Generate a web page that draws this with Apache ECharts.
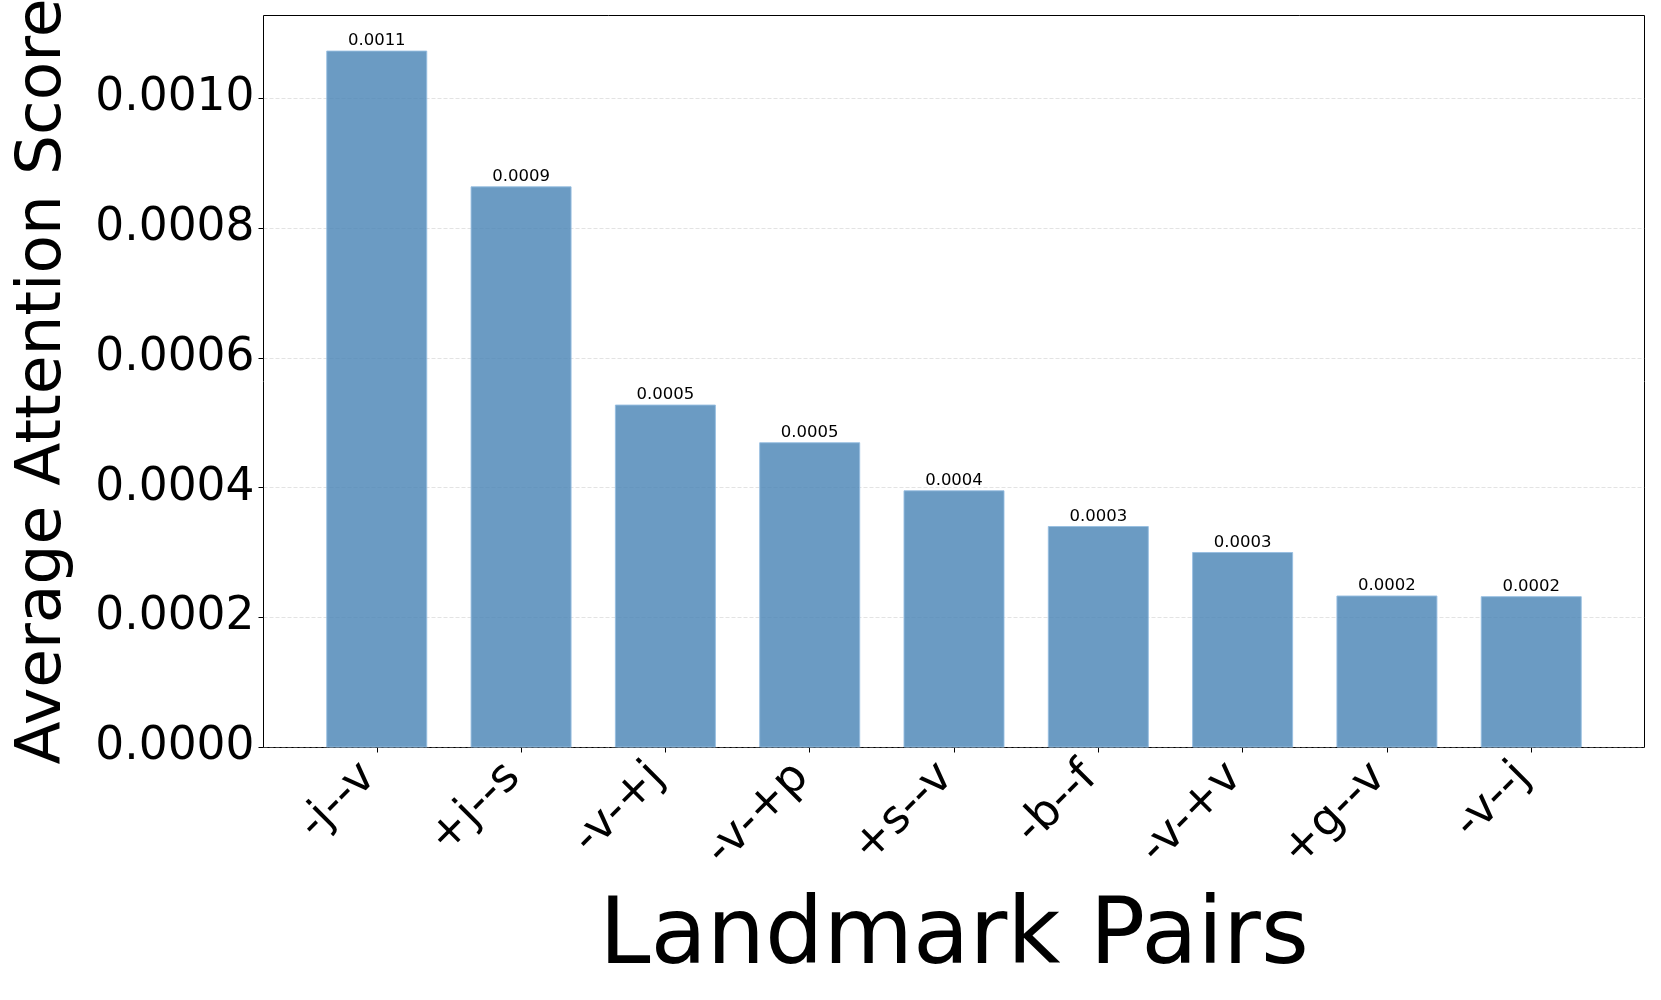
<!DOCTYPE html>
<html>
<head>
<meta charset="utf-8">
<title>Landmark Pairs</title>
<script src="https://cdn.jsdelivr.net/npm/echarts@6/dist/echarts.min.js"></script>
<style>
  html, body { margin: 0; padding: 0; background: #fff; }
  #chart { width: 1661px; height: 1000px; }
</style>
</head>
<body>
<div id="chart"></div>
<script>
// data
var pairs = ["-j--v", "+j--s", "-v-+j", "-v-+p", "+s--v", "-b--f", "-v-+v", "+g--v", "-v--j"];
var scores = [0.001073, 0.000864, 0.000528, 0.000470, 0.000396, 0.000341, 0.000301, 0.000234, 0.000233];
var yTicks = [0, 0.0002, 0.0004, 0.0006, 0.0008, 0.0010];
var yMax = 0.001127;

var font = "DejaVu Sans";
var chart = echarts.init(document.getElementById("chart"));

chart.setOption({
  backgroundColor: "#fff",
  animation: false,
  textStyle: { fontFamily: font },
  grid: [
    // frame grid (matplotlib axes box), half pixel so the border is crisp
    { left: 263.5, right: 16.5, top: 15.5, bottom: 252.5, show: true, borderColor: "#000", borderWidth: 1, outerBoundsMode: "none" },
    // bars grid, inset so the categories sit like matplotlib's margins
    { left: 304.6, right: 57.6, top: 15.5, bottom: 252.5, outerBoundsMode: "none" }
  ],
  xAxis: [
    {
      gridIndex: 0,
      type: "value",
      min: 0,
      max: 1,
      axisLine: { show: false },
      axisTick: { show: false },
      axisLabel: { show: false },
      splitLine: { show: false },
      name: "Landmark Pairs",
      nameLocation: "middle",
      nameGap: 146,
      nameMoveOverlap: false,
      nameTextStyle: { fontSize: 92, color: "#000", fontFamily: font }
    },
    {
      gridIndex: 1,
      type: "category",
      data: pairs,
      axisLine: { show: false },
      axisTick: { show: true, alignWithLabel: true, length: 5, lineStyle: { color: "#000", width: 1 } },
      axisLabel: {
        rotate: 45,
        interval: 0,
        fontSize: 45.5,
        color: "#000",
        fontFamily: font,
        margin: 15,
        padding: [0, 11, 0, 0]
      },
      splitLine: { show: false }
    }
  ],
  yAxis: [
    {
      gridIndex: 0,
      type: "value",
      min: 0,
      max: yMax,
      interval: 0.0002,
      axisLine: { show: false },
      axisTick: { show: true, length: 5, customValues: yTicks, lineStyle: { color: "#000", width: 1 } },
      axisLabel: {
        customValues: yTicks,
        fontSize: 45.5,
        color: "#000",
        fontFamily: font,
        margin: 9,
        formatter: function (v) { return v.toFixed(4); }
      },
      splitLine: { show: true, lineStyle: { color: "rgba(176,176,176,0.35)", type: [4, 2], width: 1 } },
      name: "Average Attention Score",
      nameLocation: "middle",
      nameGap: 188,
      nameMoveOverlap: false,
      nameTextStyle: { fontSize: 63, color: "#000", fontFamily: font }
    },
    {
      gridIndex: 1,
      type: "value",
      min: 0,
      max: yMax,
      show: false,
      splitLine: { show: false }
    }
  ],
  series: [
    {
      type: "bar",
      xAxisIndex: 1,
      yAxisIndex: 1,
      data: scores,
      barWidth: 101,
      itemStyle: { color: "rgba(70,130,180,0.8)", borderColor: "rgba(150,190,225,0.9)", borderWidth: 1 },
      label: {
        show: true,
        position: "top",
        distance: 1,
        fontSize: 16.5,
        color: "#000",
        fontFamily: font,
        formatter: function (p) { return p.value.toFixed(4); }
      }
    }
  ]
});
</script>
</body>
</html>
